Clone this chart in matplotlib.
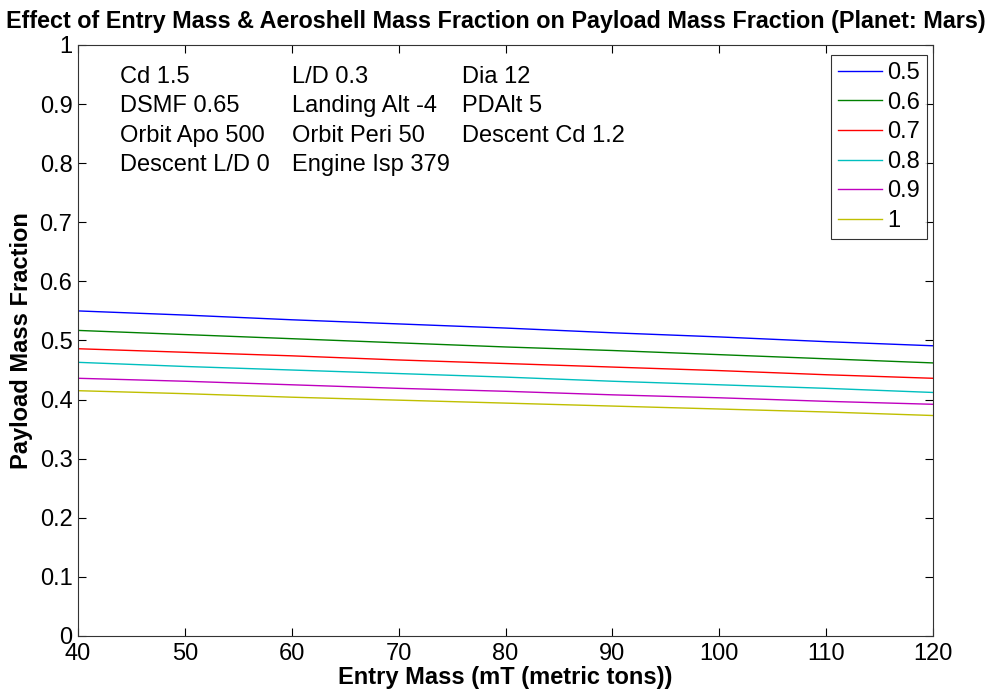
import matplotlib
matplotlib.use("Agg")
import matplotlib.pyplot as plt
from matplotlib import font_manager

# Entry mass grid (metric tons)
entry_mass = [40, 50, 60, 70, 80, 90, 100, 110, 120]

# Payload mass fraction for each aeroshell mass fraction
pmf_05 = [0.550, 0.543, 0.535, 0.528, 0.521, 0.513, 0.506, 0.498, 0.491]
pmf_06 = [0.517, 0.510, 0.503, 0.496, 0.489, 0.483, 0.476, 0.469, 0.462]
pmf_07 = [0.486, 0.480, 0.474, 0.467, 0.461, 0.455, 0.449, 0.442, 0.436]
pmf_08 = [0.463, 0.456, 0.450, 0.444, 0.438, 0.431, 0.425, 0.419, 0.412]
pmf_09 = [0.436, 0.431, 0.425, 0.419, 0.414, 0.408, 0.403, 0.397, 0.392]
pmf_10 = [0.415, 0.410, 0.404, 0.399, 0.394, 0.389, 0.384, 0.379, 0.373]

series_labels = ["0.5", "0.6", "0.7", "0.8", "0.9", "1"]
series_values = [pmf_05, pmf_06, pmf_07, pmf_08, pmf_09, pmf_10]
series_colors = [(0, 0, 1), (0, 0.5, 0), (1, 0, 0),
                 (0, 0.75, 0.75), (0.75, 0, 0.75), (0.75, 0.75, 0)]

x_ticks = [40, 50, 60, 70, 80, 90, 100, 110, 120]
y_ticks = [0, 0.1, 0.2, 0.3, 0.4, 0.5, 0.6, 0.7, 0.8, 0.9, 1]
y_tick_labels = ["0", "0.1", "0.2", "0.3", "0.4", "0.5", "0.6", "0.7", "0.8", "0.9", "1"]

param_columns = [
    ["Cd 1.5", "DSMF 0.65", "Orbit Apo 500", "Descent L/D 0"],
    ["L/D 0.3", "Landing Alt -4", "Orbit Peri 50", "Engine Isp 379"],
    ["Dia 12", "PDAlt 5", "Descent Cd 1.2"],
]

title = "Effect of Entry Mass & Aeroshell Mass Fraction on Payload Mass Fraction (Planet: Mars)"
x_label = "Entry Mass (mT (metric tons))"
y_label = "Payload Mass Fraction"

installed = {f.name for f in font_manager.fontManager.ttflist}
base_font = "Liberation Sans" if "Liberation Sans" in installed else "DejaVu Sans"
plt.rcParams["font.family"] = [base_font, "DejaVu Sans"]

FS = 17

fig = plt.figure(figsize=(9.91, 6.92), dpi=100)
ax = fig.add_axes([0.0787, 0.081, 0.8628, 0.854])

for vals, lab, col in zip(series_values, series_labels, series_colors):
    ax.plot(entry_mass, vals, color=col, lw=1.0, label=lab)

ax.set_xlim(40, 120)
ax.set_ylim(0, 1)
ax.set_xticks(x_ticks)
ax.set_yticks(y_ticks)
ax.set_yticklabels(y_tick_labels)
ax.tick_params(direction="in", length=6, width=0.8, top=True, right=True,
               labelsize=FS, colors="black")
ax.tick_params(axis="x", pad=5)
ax.tick_params(axis="y", pad=4)
for s in ax.spines.values():
    s.set_linewidth(0.8)
    s.set_color("#333333")

ax.set_title(title, fontsize=16.8, fontweight="bold", pad=12, x=0.489)
ax.set_xlabel(x_label, fontsize=FS, fontweight="bold", labelpad=1)
ax.set_ylabel(y_label, fontsize=FS, fontweight="bold", labelpad=5)

col_x = [0.049, 0.250, 0.449]
for cx, lines in zip(col_x, param_columns):
    for i, t in enumerate(lines):
        ax.text(cx, 0.965 - i * 0.0499, t, transform=ax.transAxes,
                fontsize=FS, va="top", ha="left")

leg = ax.legend(loc="upper right", bbox_to_anchor=(0.993, 0.983),
                fontsize=FS, frameon=True, fancybox=False,
                edgecolor="black", handlelength=1.85, handletextpad=0.22,
                labelspacing=0.32, borderpad=0.3, borderaxespad=0.0)
leg.get_frame().set_linewidth(0.8)

fig.savefig("out.png", dpi=100)
